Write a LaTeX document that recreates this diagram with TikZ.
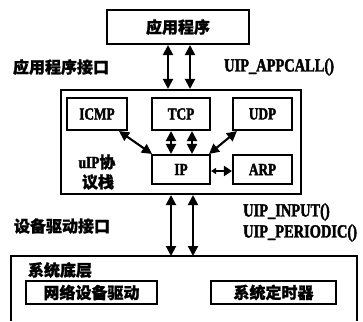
\documentclass[tikz,border=0pt]{standalone}
\usepackage{fontspec}
\setmainfont{Liberation Serif}
\newfontfamily\cjk{Noto Sans CJK SC}[BoldFeatures={FakeBold=1.2}]
\newfontfamily\lat{Liberation Serif}[FakeStretch=0.78, BoldFeatures={FakeBold=2}]
\usetikzlibrary{arrows.meta}
\tikzset{
  box/.style={draw, line width=2.1pt, inner sep=0pt},
  arr/.style={line width=2.1pt, {Triangle[width=10pt,length=10pt]}-{Triangle[width=10pt,length=10pt]}},
  cn/.style={inner sep=0pt, font=\cjk\bfseries\fontsize{16}{18}\selectfont},
  en/.style={inner sep=0pt, font=\lat\bfseries\fontsize{18.5}{20}\selectfont},
  enb/.style={font=\lat\bfseries\fontsize{17}{18}\selectfont},
}
\begin{document}
\begin{tikzpicture}[x=1pt,y=-1pt]
\useasboundingbox (0,0) rectangle (363,321);
% top box
\node[box, cn, minimum width=142pt, minimum height=34pt] (app) at (178,27) {应用程序};
\node[cn] (apilbl) at (61,67) {应用程序接口};
\node[en, anchor=west] (appcall) at (224,67) {UIP\_APPCALL()};
% uIP box
\node[box, minimum width=240pt, minimum height=104pt] (uip) at (181,142) {};
\node[box, enb, minimum width=60pt, minimum height=32pt] (icmp) at (97,114) {ICMP};
\node[box, enb, minimum width=58pt, minimum height=32pt] (tcp) at (181,114) {TCP};
\node[box, enb, minimum width=59pt, minimum height=32pt] (udp) at (262.5,114) {UDP};
\node[box, enb, minimum width=58pt, minimum height=29pt] (ip) at (181,169.5) {IP};
\node[box, enb, minimum width=59pt, minimum height=29pt] (arp) at (262.5,169.5) {ARP};
\node[cn] (uiplbl1) at (97,162) {{\lat\bfseries\fontsize{17}{18}\selectfont uIP}协};
\node[cn] (uiplbl2) at (98,182) {议栈};
% arrows top
\draw[arr] ([xshift=-10pt]app.south) -- ([xshift=-10pt]app.south |- uip.north);
\draw[arr] ([xshift=12pt]app.south) -- ([xshift=12pt]app.south |- uip.north);
% inner arrows
\draw[arr] ([xshift=-10pt]tcp.south) -- ([xshift=-10pt]ip.north);
\draw[arr] ([xshift=11pt]tcp.south) -- ([xshift=11pt]ip.north);
\draw[arr] ([xshift=-9pt]icmp.south east) -- ([xshift=1pt]ip.north west);
\draw[arr] ([xshift=5pt]udp.south west) -- ([xshift=-2pt]ip.north east);
\draw[line width=2.1pt, {Triangle[width=6pt,length=5pt]}-{Triangle[width=10pt,length=8pt]}] ([yshift=-1.5pt]ip.east) -- ([yshift=-1.5pt]arp.west);
% system layer
\coordinate (systop) at (184,256);
\draw[line width=2.1pt] (11,321) -- (11,256) -- (357,256) -- (357,321);
\draw[arr] ([xshift=-10pt]uip.south) -- ([xshift=-10pt]uip.south |- systop);
\draw[arr] ([xshift=12pt]uip.south) -- ([xshift=12pt]uip.south |- systop);
\node[en, anchor=west] (input) at (243,212) {UIP\_INPUT()};
\node[en, anchor=west] (periodic) at (243,233) {UIP\_PERIODIC()};
\node[cn] (drvlbl) at (62,226) {设备驱动接口};
\node[cn] (syslbl) at (60,270) {系统底层};
\node[box, cn, minimum width=131pt, minimum height=23pt] (net) at (91.5,292.5) {网络设备驱动};
\node[box, cn, minimum width=125pt, minimum height=23pt] (timer) at (273.5,292.5) {系统定时器};
\end{tikzpicture}
\end{document}
